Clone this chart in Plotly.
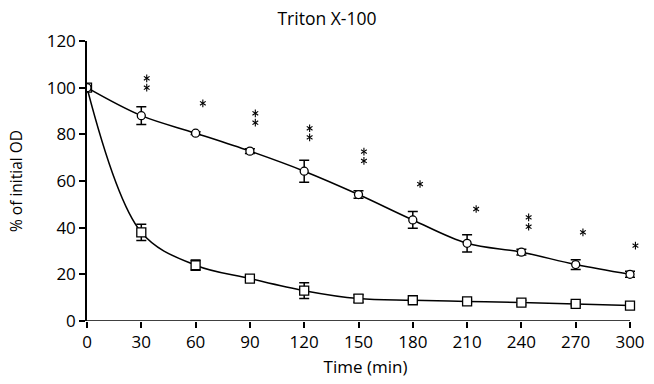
import plotly.graph_objects as go

time = [0, 30, 60, 90, 120, 150, 180, 210, 240, 270, 300]
circle_vals = [100, 88, 80.5, 72.8, 64.2, 54.2, 43.3, 33.3, 29.5, 24.2, 20]
circle_err = [0.8, 3.8, 0.6, 1.0, 4.7, 1.6, 3.6, 3.7, 1.2, 2.1, 1.3]
square_vals = [100, 38, 23.9, 18.2, 13, 9.6, 8.9, 8.4, 7.9, 7.3, 6.6]
square_err = [0.8, 3.5, 2.2, 1.0, 3.4, 1.6, 0.6, 0.8, 1.0, 0.8, 0.5]

star_x = [33, 33, 64, 93, 93, 123, 123, 153, 153, 184, 215, 244, 244, 274, 303]
star_y = [104, 100, 93.3, 89, 85, 82.6, 78.7, 72.6, 68.6, 58.7, 48, 44.4, 40.4, 38, 32.3]

x_ticks = [0, 30, 60, 90, 120, 150, 180, 210, 240, 270, 300]
y_ticks = [0, 20, 40, 60, 80, 100, 120]

FONT = "Open Sans"

W, H = 654, 384
ML, MR = 87, 10
PLOT_W = 543                      # pixel length of the drawn 0..300 axis
SUB_W = W - ML - MR               # plotting region incl. room for the last star
X_MAX = x_ticks[-1]
X_RANGE_MAX = X_MAX * SUB_W / PLOT_W

fig = go.Figure()

fig.add_trace(go.Scatter(
    x=time, y=square_vals, mode="lines+markers",
    line=dict(color="black", width=1.5, shape="spline", smoothing=1.0),
    marker=dict(symbol="square", size=9, color="white", line=dict(color="black", width=1.3)),
    error_y=dict(type="data", array=square_err, visible=True, color="black", thickness=1.5, width=5),
    showlegend=False,
))
fig.add_trace(go.Scatter(
    x=time, y=circle_vals, mode="lines+markers",
    line=dict(color="black", width=1.5, shape="spline", smoothing=1.0),
    marker=dict(symbol="circle", size=8, color="white", line=dict(color="black", width=1.3)),
    error_y=dict(type="data", array=circle_err, visible=True, color="black", thickness=1.5, width=5),
    showlegend=False,
))
for sym in ["y-up-open", "y-down-open"]:
    fig.add_trace(go.Scatter(
        x=star_x, y=star_y, mode="markers",
        marker=dict(symbol=sym, size=4.8, color="black", line=dict(color="#222", width=1.1)),
        showlegend=False, hoverinfo="skip",
    ))

# x axis line drawn only from first to last tick
fig.add_shape(type="line", xref="x", yref="y",
              x0=x_ticks[0], x1=x_ticks[-1], y0=y_ticks[0], y1=y_ticks[0],
              line=dict(color="black", width=1.5), layer="above")

fig.update_layout(
    width=W, height=H,
    margin=dict(l=ML, r=MR, t=41, b=63),
    paper_bgcolor="white", plot_bgcolor="white",
    font=dict(family=FONT, color="black", size=17),
    title=dict(text="Triton X-100", x=0.5, xref="container", xanchor="center",
               y=0.95, yanchor="middle",
               font=dict(size=17.5, family=FONT, color="black")),
)
fig.update_xaxes(
    range=[0, X_RANGE_MAX], tickvals=x_ticks, ticktext=[str(v) for v in x_ticks],
    showline=False, ticks="outside", ticklen=6,
    tickwidth=1.5, tickcolor="black", showgrid=False, zeroline=False,
    tickfont=dict(size=17, family=FONT),
    title=dict(text="Time (min)", font=dict(size=17, family=FONT), standoff=8),
)
fig.update_yaxes(
    range=[0, 120], tickvals=y_ticks, ticktext=[str(v) for v in y_ticks],
    showline=True, linecolor="black", linewidth=1.5, ticks="outside", ticklen=6,
    tickwidth=1.5, tickcolor="black", showgrid=False, zeroline=False,
    tickfont=dict(size=17, family=FONT),
    title=dict(text="% of initial OD", font=dict(size=15.5, family=FONT), standoff=20),
)

fig.write_html("out.html")
